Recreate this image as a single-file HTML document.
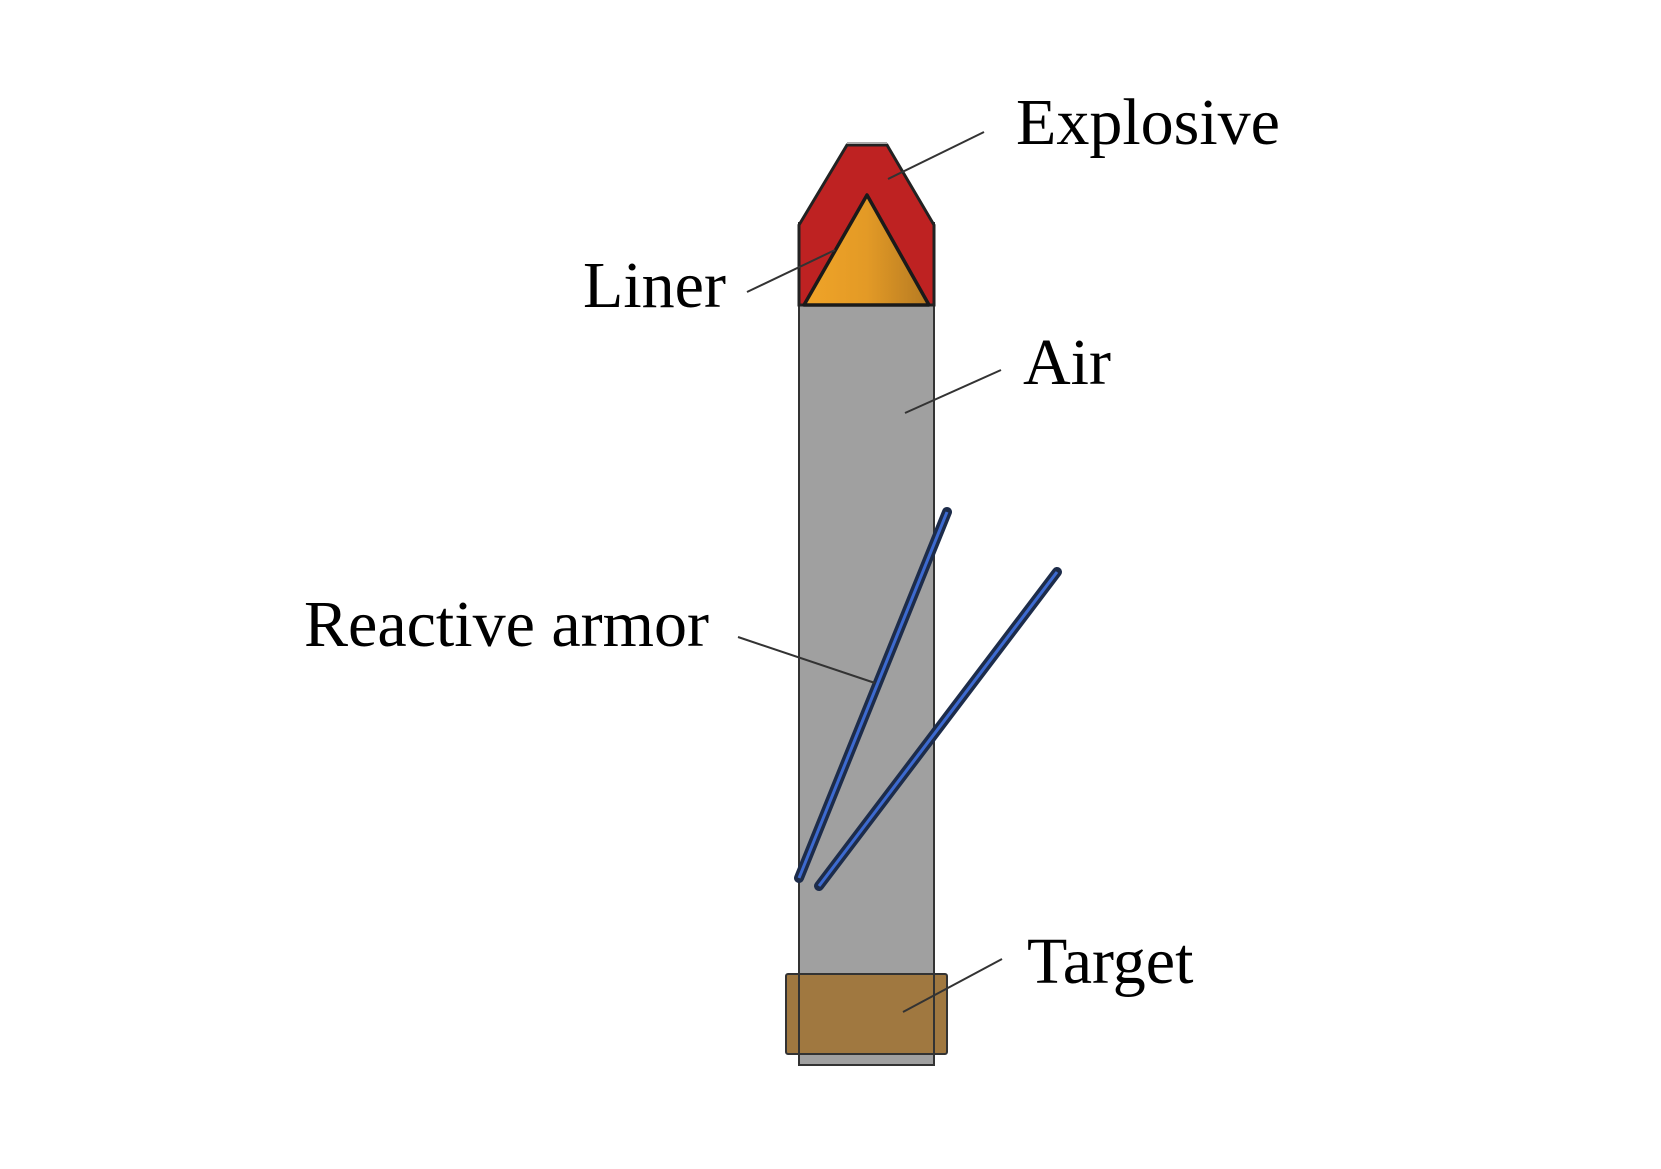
<!DOCTYPE html>
<html><head><style>html,body{margin:0;padding:0;background:#fff;width:1661px;height:1169px;overflow:hidden}</style></head>
<body>
<svg width="1661" height="1169" viewBox="0 0 1661 1169" xmlns="http://www.w3.org/2000/svg">
<defs>
<linearGradient id="cone" x1="0" x2="1" y1="0" y2="0">
<stop offset="0" stop-color="#f0a428"/><stop offset="0.5" stop-color="#e39a26"/><stop offset="1" stop-color="#b57a22"/>
</linearGradient>
</defs>
<rect x="799" y="223" width="135" height="842" fill="#a0a0a0" stroke="#333" stroke-width="2"/>
<polygon points="847,145 887,145 934,225 934,305 799,305 799,225" fill="#be2222" stroke="#222" stroke-width="3"/>
<line x1="847" y1="143" x2="887" y2="143" stroke="#aaa" stroke-width="2"/>
<polygon points="867,195 929,305 804,305" fill="url(#cone)" stroke="#1a1a1a" stroke-width="3.5" stroke-linejoin="round"/>
<line x1="947" y1="512" x2="799" y2="878" stroke="#1d2c4a" stroke-width="10" stroke-linecap="round"/>
<line x1="947" y1="512" x2="799" y2="878" stroke="#3d6ad0" stroke-width="3"/>
<line x1="1057" y1="572" x2="819" y2="886" stroke="#1d2c4a" stroke-width="10" stroke-linecap="round"/>
<line x1="1057" y1="572" x2="819" y2="886" stroke="#3d6ad0" stroke-width="3"/>
<rect x="786" y="974" width="161" height="80" rx="2" fill="#a07840" stroke="#333" stroke-width="2"/>
<line x1="799" y1="974" x2="799" y2="1054" stroke="#333" stroke-width="2"/>
<line x1="934" y1="974" x2="934" y2="1054" stroke="#333" stroke-width="2"/>
<g stroke="#333" stroke-width="2">
<line x1="984" y1="132" x2="888" y2="179"/>
<line x1="747" y1="292" x2="835" y2="250"/>
<line x1="1001" y1="370" x2="905" y2="413"/>
<line x1="738" y1="637" x2="875" y2="683"/>
<line x1="1002" y1="959" x2="903" y2="1012"/>
</g>
<g font-family="Liberation Serif, serif" font-size="66" fill="#000">
<text x="1016" y="144">Explosive</text>
<text x="583" y="307">Liner</text>
<text x="1023" y="384">Air</text>
<text x="304" y="646">Reactive armor</text>
<text x="1027" y="983">Target</text>
</g>
</svg>
</body></html>
